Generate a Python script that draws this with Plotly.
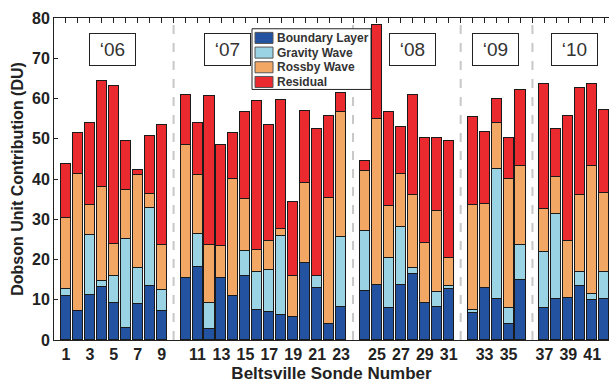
import plotly.graph_objects as go

# Sonde numbers grouped by year
years = ["‘06", "‘07", "‘08", "‘09", "‘10"]
year_sondes = [
    list(range(1, 10)),
    list(range(10, 24)),
    list(range(24, 32)),
    list(range(32, 37)),
    list(range(37, 43)),
]

# Ozone contributions (DU) per sonde, in sonde order 1..42
boundary_layer = [10.9, 7.3, 11.2, 13.1, 9.2, 2.9, 9.0, 13.4, 7.3,
                  15.3, 18.2, 2.7, 15.3, 10.9, 16.0, 7.5, 7.0, 6.3, 5.6, 19.2, 12.9, 3.9, 8.3,
                  12.2, 13.6, 8.0, 13.6, 16.5, 9.2, 8.3, 12.6,
                  6.8, 12.9, 10.2, 3.9, 14.8,
                  8.0, 10.2, 10.5, 13.4, 10.0, 10.2]
gravity_wave = [1.7, 0.0, 14.8, 1.5, 6.8, 22.1, 9.0, 19.4, 5.1,
                0.0, 8.1, 6.5, 0.0, 0.0, 6.1, 9.3, 10.5, 19.5, 0.0, 0.0, 3.1, 0.0, 17.2,
                14.8, 0.0, 12.4, 14.4, 1.5, 0.0, 3.6, 0.8,
                0.7, 0.0, 32.3, 4.1, 8.8,
                13.9, 21.2, 0.0, 3.4, 1.4, 6.8]
rossby_wave = [17.8, 34.0, 7.5, 23.3, 7.8, 12.2, 23.0, 3.4, 11.1,
               33.1, 14.7, 14.4, 8.0, 29.2, 12.9, 5.6, 7.1, 1.9, 10.4, 19.9, 0.0, 31.4, 31.1,
               15.1, 41.3, 12.9, 13.3, 18.0, 14.9, 20.2, 7.0,
               26.0, 20.9, 11.5, 31.9, 19.7,
               10.7, 9.2, 14.1, 19.2, 31.9, 19.5]
residual = [13.4, 10.2, 20.5, 26.5, 39.4, 12.2, 1.3, 14.4, 29.8,
            12.5, 13.0, 36.9, 25.1, 11.4, 21.6, 36.9, 28.9, 31.9, 18.3, 17.8, 36.5, 20.4, 4.8,
            2.4, 23.4, 23.3, 11.7, 24.8, 26.2, 18.0, 29.0,
            21.9, 18.0, 6.0, 10.4, 18.9,
            30.9, 11.9, 31.1, 26.7, 20.4, 20.6]

series = [
    ("Boundary Layer", boundary_layer, "#2352a1"),
    ("Gravity Wave", gravity_wave, "#9ad4e4"),
    ("Rossby Wave", rossby_wave, "#f2a765"),
    ("Residual", residual, "#ea2a2e"),
]

# Each year block is followed by one empty slot on the x axis
sondes, slots = [], []
for gi, group in enumerate(year_sondes):
    for s in group:
        sondes.append(s)
        slots.append(s + gi)
separators = [year_sondes[gi][-1] + gi + 1 for gi in range(len(year_sondes) - 1)]
n_slots = slots[-1]

label_sondes = [s for s in sondes if s % 2 == 1]
label_slots = [slots[sondes.index(s)] for s in label_sondes]

fig = go.Figure()
for name, vals, color in series:
    fig.add_trace(go.Bar(
        x=slots, y=vals, name=name, width=0.84, showlegend=False,
        marker=dict(color=color, line=dict(color="#1a1a1a", width=1.2)),
    ))

# Dummy trace so the top tick axis is drawn
fig.add_trace(go.Scatter(x=[None], y=[None], xaxis="x2", showlegend=False, hoverinfo="skip"))

x_range = [0, n_slots + 0.4]

shapes = [
    dict(type="line", xref="x", yref="paper", x0=sx, x1=sx, y0=0, y1=1,
         line=dict(color="#c8c8c8", width=2, dash="dash"), layer="below")
    for sx in separators
]

year_x = [0.1054, 0.3126, 0.646, 0.7955, 0.938]
annotations = [
    dict(text=yr, xref="paper", yref="paper", x=xp, y=0.901, showarrow=False,
         font=dict(family="Liberation Sans", size=19, color="#333333"),
         bordercolor="#222222", borderwidth=1, bgcolor="white",
         width=43, height=29, xanchor="center", yanchor="middle")
    for yr, xp in zip(years, year_x)
]

# Compact legend box drawn over the bars (plot is 555 x 329 px)
def px_x(px):
    return (px - 54) / 555.0

def px_y(py):
    return (347 - py) / 329.0

shapes.append(dict(type="rect", xref="paper", yref="paper",
                   x0=px_x(252), x1=px_x(371), y0=px_y(91), y1=px_y(29),
                   fillcolor="white", line=dict(color="#222222", width=1), layer="above"))
for i, (name, _, color) in enumerate(series):
    top = 32.7 + 15 * i
    shapes.append(dict(type="rect", xref="paper", yref="paper",
                       x0=px_x(255), x1=px_x(273), y0=px_y(top + 11.3), y1=px_y(top),
                       fillcolor=color, line=dict(color="#555555", width=1), layer="above"))
    annotations.append(dict(text="<b>%s</b>" % name, xref="paper", yref="paper",
                            x=px_x(275), y=px_y(top + 5.8), xanchor="left", yanchor="middle",
                            showarrow=False,
                            font=dict(family="Liberation Sans", size=12, color="#333333")))

fig.update_layout(
    width=609, height=383,
    margin=dict(l=54, r=0, t=18, b=36),
    paper_bgcolor="white", plot_bgcolor="white",
    barmode="stack", bargap=0,
    font=dict(family="Liberation Sans", color="#222222"),
    shapes=shapes, annotations=annotations,
    showlegend=False,
    xaxis=dict(
        range=x_range, tickmode="array", tickvals=label_slots,
        ticktext=[str(s) for s in label_sondes], ticks="",
        showline=True, linecolor="#222222", linewidth=1, showgrid=False, zeroline=False,
        tickfont=dict(size=16, weight="bold", color="#222222"),
        title=dict(text="Beltsville Sonde Number", standoff=8,
                   font=dict(size=17, weight="bold", color="#222222")),
    ),
    xaxis2=dict(
        overlaying="x", side="top", matches="x", range=x_range,
        tickmode="array", tickvals=list(range(1, n_slots + 1)),
        ticks="inside", ticklen=5, tickcolor="#222222", showticklabels=False,
        showline=True, linecolor="#222222", linewidth=1, showgrid=False, zeroline=False,
    ),
    yaxis=dict(
        range=[0, 80], dtick=10, ticks="inside", ticklen=4, tickcolor="#222222",
        showline=True, linecolor="#222222", linewidth=1, showgrid=False, zeroline=False,
        tickfont=dict(size=16, weight="bold", color="#222222"),
        title=dict(text="Dobson Unit Contribution (DU)", standoff=4,
                   font=dict(size=16, weight="bold", color="#222222")),
    ),
)

fig.write_html("out.html")
